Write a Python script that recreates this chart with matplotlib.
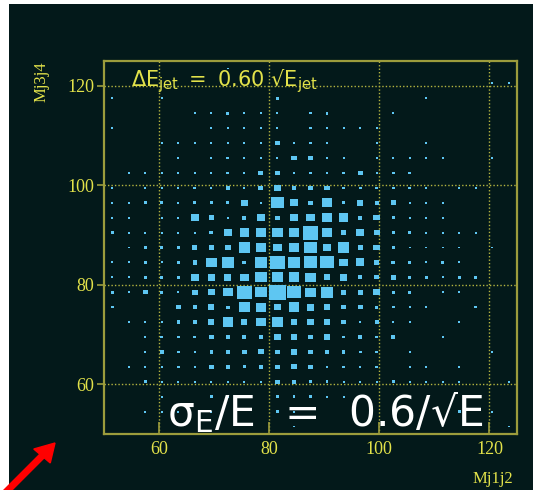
import numpy as np
import matplotlib.pyplot as plt
from matplotlib.patches import Rectangle, FancyArrow
from matplotlib.collections import PatchCollection

# 25 x 25 bins, 3 GeV wide, from 50 to 125 on both axes
x_edges = np.arange(50, 126, 3)
y_edges = np.arange(50, 126, 3)

# counts per bin, first row = top (Mj3j4 ~ 123.5), columns = Mj1j2 from 51.5 up
counts = [
    [0,0,0,0,0,0,0,1,0,0,0,0,0,0,0,0,0,0,0,0,0,0,0,0,0],
    [0,0,0,0,0,0,0,0,0,0,0,0,0,0,0,0,0,0,0,0,0,0,0,1,1],
    [1,0,0,1,0,0,0,0,0,0,2,0,0,0,0,0,0,0,0,1,0,0,0,0,0],
    [0,0,0,0,0,1,1,2,1,1,1,0,1,2,0,0,0,1,0,0,0,0,0,0,0],
    [1,0,0,0,0,0,1,1,1,1,1,0,1,1,1,1,1,0,0,0,0,0,0,0,0],
    [0,0,0,1,1,1,1,1,1,1,4,2,1,1,0,0,1,0,0,1,0,0,0,0,0],
    [0,0,0,0,1,0,1,2,1,1,1,6,6,1,1,0,1,1,1,1,1,0,0,1,0],
    [0,1,1,1,1,1,1,2,1,6,6,2,2,2,2,6,1,2,2,0,0,0,0,0,0],
    [1,0,1,1,1,2,1,4,1,6,9,4,4,6,2,2,2,2,2,1,0,1,1,0,0],
    [1,1,2,2,1,2,2,2,9,1,36,16,4,25,2,9,4,6,1,1,1,0,0,0,0],
    [1,1,0,1,1,16,6,1,4,12,4,14,16,25,22,4,9,2,1,1,1,0,0,0,0],
    [2,1,1,1,1,1,4,14,20,27,27,27,56,27,5,14,8,2,2,1,1,1,1,0,0],
    [0,1,2,2,2,6,6,9,30,20,16,20,36,16,30,6,9,2,1,1,1,1,0,1,0],
    [1,1,2,1,3,5,25,36,4,36,49,32,42,42,16,18,5,4,2,1,2,1,0,0,0],
    [1,1,3,2,3,16,12,12,16,30,30,27,25,10,12,4,5,6,2,2,1,2,2,0,0],
    [2,1,5,2,1,8,10,20,52,30,64,42,25,36,8,6,12,2,2,0,1,1,0,0,0],
    [2,0,0,0,5,5,9,3,30,22,12,27,14,10,6,6,3,2,1,1,0,0,2,0,0],
    [0,1,1,1,3,5,8,27,8,22,25,8,10,8,5,1,4,1,1,0,0,1,0,0,0],
    [0,0,1,2,2,2,5,3,4,5,9,10,5,9,2,3,2,4,0,0,1,0,0,0,0],
    [0,0,1,3,2,1,3,5,5,7,6,9,5,5,3,2,2,0,1,0,0,0,0,1,0],
    [0,1,1,1,2,1,6,4,3,4,4,7,4,1,2,1,2,0,1,1,0,1,0,0,0],
    [0,0,2,1,1,1,1,1,1,1,4,4,2,2,1,1,1,2,1,1,1,1,0,0,1],
    [0,0,0,1,0,0,2,2,0,0,2,2,2,1,1,0,0,0,0,0,0,0,0,0,0],
    [0,0,1,1,1,0,1,0,0,0,2,1,0,0,0,0,0,0,0,0,0,2,0,1,0],
    [0,0,0,0,0,0,0,0,0,0,0,1,0,0,0,0,0,0,0,0,0,0,0,0,1],
]
ticks = [60, 80, 100, 120]

bg = '#03191a'
yellow = '#e2e24a'
frame = '#9c9c3c'
box_col = '#5ec6f2'

fig = plt.figure(figsize=(5.33, 4.90), dpi=100, facecolor='white')
# dark slide background (white strip left and top like the screenshot)
fig.patches.append(Rectangle((9/533, 0), 1, 1 - 4/490, transform=fig.transFigure,
                             facecolor=bg, edgecolor='none', zorder=-10))

ax = fig.add_axes([104/533, 1 - 434/490, 413/533, 373/490])
ax.set_facecolor(bg)

c = np.array(counts, dtype=float)[::-1]   # flip so row 0 = bottom
xc = (x_edges[:-1] + x_edges[1:]) / 2
yc = (y_edges[:-1] + y_edges[1:]) / 2
bw = x_edges[1] - x_edges[0]
bh = y_edges[1] - y_edges[0]
cmax = c.max()

boxes = []
for j in range(len(yc)):
    for i in range(len(xc)):
        if c[j, i] <= 0:
            continue
        f = np.sqrt(c[j, i] / cmax)
        w, h = bw * f, bh * f
        boxes.append(Rectangle((xc[i] - w/2, yc[j] - h/2), w, h))
ax.add_collection(PatchCollection(boxes, facecolor=box_col, edgecolor='none', zorder=3))

ax.set_xlim(50, 125)
ax.set_ylim(50, 125)
ax.set_xticks(ticks)
ax.set_yticks(ticks)
ax.grid(True, color='#b4b440', linestyle=(0, (1, 1.5)), linewidth=1.0, zorder=1)
ax.set_axisbelow(True)

for s in ax.spines.values():
    s.set_color(frame)
    s.set_linewidth(1.6)

ax.tick_params(axis='x', direction='in', length=9, width=1.2, color=frame,
               labelcolor=yellow, labelsize=13, pad=5)
ax.tick_params(axis='y', direction='out', length=5, width=1.2, color=frame,
               labelcolor=yellow, labelsize=13, pad=2)
for lab in ax.get_xticklabels() + ax.get_yticklabels():
    lab.set_family('Liberation Serif')

fig.text(42/533, 1 - 82/490, 'Mj3j4', rotation=90, color=yellow, family='Liberation Serif',
         fontsize=12, ha='center', va='center')
fig.text(493/533, 1 - 479/490, 'Mj1j2', color=yellow, family='Liberation Serif',
         fontsize=12, ha='center', va='center')

fig.text(131/533, 1 - 86/490, r'$\mathregular{ΔE_{jet}\ =\ 0.60\ √E_{jet}}$',
         color=yellow, fontsize=15, family='DejaVu Sans', ha='left', va='baseline')
fig.text(167/533, 1 - 426/490, r'$\mathregular{σ_E/E\ \,=\ \,0.6/√E}$',
         color='white', fontsize=30.5, family='DejaVu Sans', ha='left', va='baseline', zorder=5)

# red arrow pointing at the plot corner
fig.add_artist(FancyArrow(4/533, 1 - 494/490, 51/533, 51/490, width=0.011,
                          head_width=0.042, head_length=0.036, length_includes_head=True,
                          color='#ff0000', transform=fig.transFigure))

fig.savefig('out.png', dpi=100, facecolor='white')
